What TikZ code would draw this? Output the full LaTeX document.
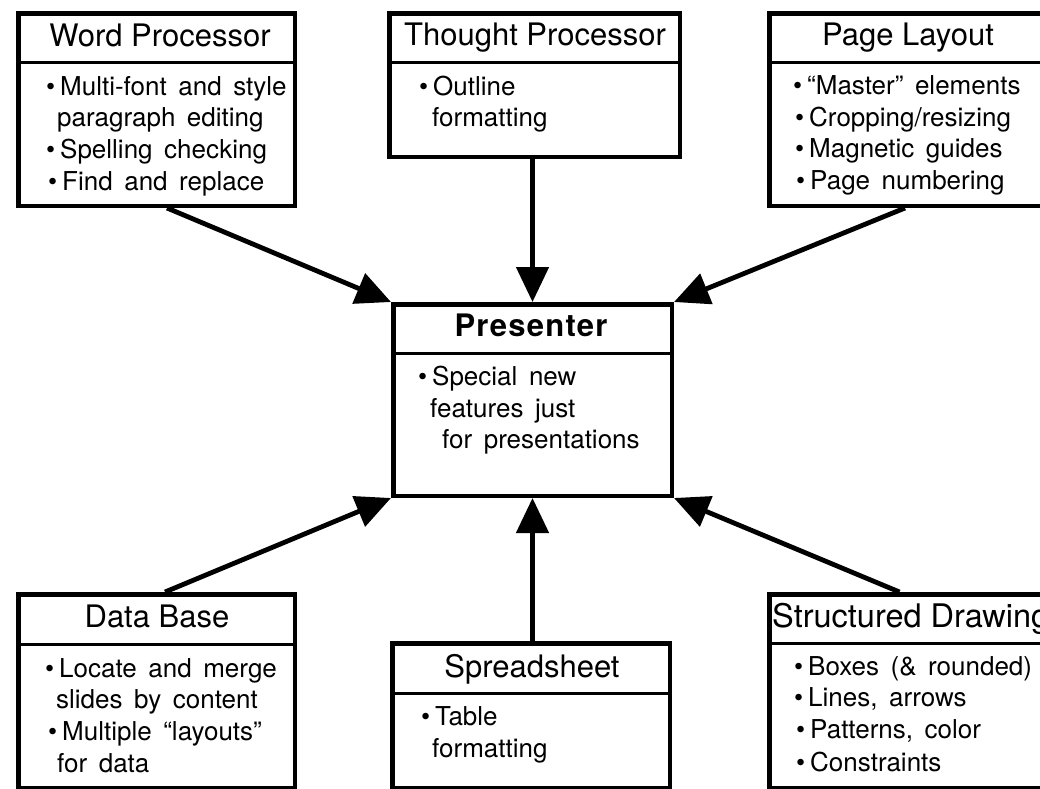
\documentclass[tikz,border=0pt]{standalone}
\usepackage{fontspec}
\setmainfont{TeX Gyre Heros}
\newfontfamily\bodyfont{TeX Gyre Heros}[WordSpace=1.6]
\newfontfamily\presfont{TeX Gyre Heros}[LetterSpace=4]
\usetikzlibrary{arrows.meta}
\newcommand\bul{\llap{•\hspace{5pt}}}
\tikzset{
  box/.style={draw, line width=4.5pt, fill=white, inner sep=0pt, outer sep=2.25pt},
  sepline/.style={line width=3pt},
  ttl/.style={font=\fontsize{31}{36}\selectfont, inner sep=0pt, anchor=base},
  txt/.style={font=\bodyfont\fontsize{26}{32}\selectfont, inner sep=0pt, anchor=base west},
  arr/.style={line width=4.8pt, -{Triangle[length=35pt,width=32pt]}},
}
\begin{document}
\begin{tikzpicture}[x=1pt,y=-1pt]
\useasboundingbox (0,0) rectangle (1040,788);
\clip (0,0) rectangle (1040,788);
\fill[white] (0,0) rectangle (1040,788);

% boxes
\node[box, minimum width=276.5pt, minimum height=192.5pt] (wp) at (156.5,109.5) {};
\node[box, minimum width=290.5pt, minimum height=143.5pt] (tp) at (534.5,85) {};
\node[box, minimum width=288.5pt, minimum height=192.5pt] (pl) at (913.5,109.5) {};
\node[box, minimum width=278.5pt, minimum height=191.5pt] (pr) at (532.5,400) {};
\node[box, minimum width=276.5pt, minimum height=193.5pt] (db) at (156.5,691) {};
\node[box, minimum width=277.5pt, minimum height=144.5pt] (ss) at (531,715.5) {};
\node[box, minimum width=288.5pt, minimum height=193.5pt] (sd) at (913.5,691) {};

% separators
\draw[sepline] (wp.west |- 0,62) -- (wp.east |- 0,62);
\draw[sepline] (tp.west |- 0,62) -- (tp.east |- 0,62);
\draw[sepline] (pl.west |- 0,62) -- (pl.east |- 0,62);
\draw[sepline] (pr.west |- 0,353) -- (pr.east |- 0,353);
\draw[sepline] (db.west |- 0,644) -- (db.east |- 0,644);
\draw[sepline] (ss.west |- 0,693) -- (ss.east |- 0,693);
\draw[sepline] (sd.west |- 0,643) -- (sd.east |- 0,643);

% titles
\node[ttl] (wpt) at (160,46) {Word Processor};
\node[ttl] (tpt) at (535,45) {Thought Processor};
\node[ttl] (plt) at (908,45) {Page Layout};
\node[ttl, font=\presfont\bfseries\fontsize{31}{36}\selectfont] (prt) at (531,336) {Presenter};
\node[ttl] (dbt) at (157,627) {Data Base};
\node[ttl] (sst) at (532,677) {Spreadsheet};
\node[ttl, anchor=base west, font=\fontsize{32.5}{36}\selectfont] (sdt) at (772,627) {Structured Drawing};

% word processor
\node[txt] (wp1) at (60,95) {\bul Multi-font and style};
\node[txt] (wp2) at (57,126.5) {paragraph editing};
\node[txt] (wp3) at (60,158) {\bul Spelling checking};
\node[txt] (wp4) at (62,190) {\bul Find and replace};

% thought processor
\node[txt] (tp1) at (433,95) {\bul Outline};
\node[txt] (tp2) at (432,126.5) {formatting};

% page layout
\node[txt] (pl1) at (807,94) {\bul “Master” elements};
\node[txt] (pl2) at (809,126) {\bul Cropping/resizing};
\node[txt] (pl3) at (809,157.5) {\bul Magnetic guides};
\node[txt] (pl4) at (810,189) {\bul Page numbering};

% presenter
\node[txt] (pr1) at (432,385) {\bul Special new};
\node[txt] (pr2) at (430,417) {features just};
\node[txt] (pr3) at (442,448) {for presentations};

% data base
\node[txt] (db1) at (59,677) {\bul Locate and merge};
\node[txt] (db2) at (56,708) {slides by content};
\node[txt] (db3) at (62,740) {\bul Multiple “layouts”};
\node[txt] (db4) at (57,772) {for data};

% spreadsheet
\node[txt] (ss1) at (435,725) {\bul Table};
\node[txt] (ss2) at (432,757) {formatting};

% structured drawing
\node[txt] (sd1) at (808,675) {\bul Boxes (\& rounded)};
\node[txt] (sd2) at (808,706) {\bul Lines, arrows};
\node[txt] (sd3) at (810,738) {\bul Patterns, color};
\node[txt] (sd4) at (810,771) {\bul Constraints};

% connectors
\draw[arr] ([xshift=10.5pt]wp.south) -- (pr.north west);
\draw[arr] (tp.south -| pr.north) -- (pr.north);
\draw[arr] ([xshift=-8.5pt]pl.south) -- (pr.north east);
\draw[arr] ([xshift=8.5pt]db.north) -- (pr.south west);
\draw[arr] (ss.north -| pr.south) -- (pr.south);
\draw[arr] ([xshift=-14pt]sd.north) -- (pr.south east);
\end{tikzpicture}
\end{document}
